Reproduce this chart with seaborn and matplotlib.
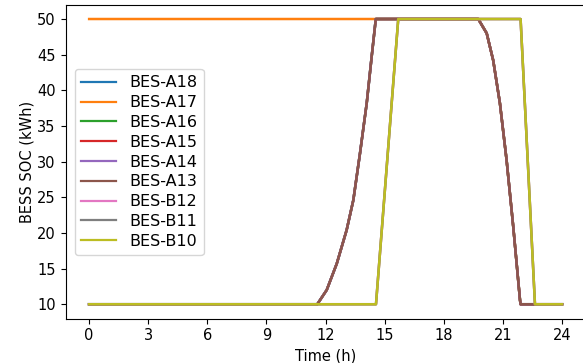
import matplotlib
matplotlib.use("Agg")
import matplotlib.pyplot as plt
import seaborn as sns
import pandas as pd

series_names = ["BES-A18", "BES-A17", "BES-A16", "BES-A15", "BES-A14",
                "BES-A13", "BES-B12", "BES-B11", "BES-B10"]

# group with early charge (A18, A16, A15, A14, A13)
time_early = [0, 11.58, 12.06, 12.57, 13.07, 13.41, 13.75, 14.09, 14.34, 14.55,
              19.75, 20.18, 20.51, 20.85, 21.19, 21.53, 21.87, 21.9, 24]
soc_early = [10, 10, 12.0, 15.7, 20.4, 24.6, 31.2, 38.2, 44.7, 50,
             50, 48.0, 44.2, 38.2, 30.2, 20.8, 10.6, 10, 10]

# battery starting full (A17), then discharging with the early group
time_full = [0, 19.75, 20.18, 20.51, 20.85, 21.19, 21.53, 21.87, 21.9, 24]
soc_full = [50, 50, 48.0, 44.2, 38.2, 30.2, 20.8, 10.6, 10, 10]

# group with late charge (B12, B11, B10)
time_late = [0, 14.56, 15.69, 21.9, 22.63, 24]
soc_late = [10, 10, 50, 50, 10, 10]

groups = {
    "BES-A18": (time_early, soc_early),
    "BES-A17": (time_full, soc_full),
    "BES-A16": (time_early, soc_early),
    "BES-A15": (time_early, soc_early),
    "BES-A14": (time_early, soc_early),
    "BES-A13": (time_early, soc_early),
    "BES-B12": (time_late, soc_late),
    "BES-B11": (time_late, soc_late),
    "BES-B10": (time_late, soc_late),
}

rows = []
for name in series_names:
    t, s = groups[name]
    for ti, si in zip(t, s):
        rows.append({"Time": ti, "SOC": si, "BES": name})
df = pd.DataFrame(rows)

x_ticks = [0, 3, 6, 9, 12, 15, 18, 21, 24]
y_ticks = [10, 15, 20, 25, 30, 35, 40, 45, 50]

plt.rcParams["font.family"] = ["DejaVu Sans"]
plt.rcParams["font.size"] = 10.5

fig = plt.figure(figsize=(5.83, 3.63), dpi=100)
ax = fig.add_axes([65.5 / 583, (363 - 318.5) / 363, (585.6 - 65.5) / 583, (318.5 - 4.75) / 363])

sns.lineplot(data=df, x="Time", y="SOC", hue="BES", hue_order=series_names,
             palette="tab10", estimator=None, sort=False, linewidth=1.8, ax=ax)

ax.set_xticks(x_ticks)
ax.set_yticks(y_ticks)
ax.set_xlim(-1.2, 25.2)
ax.set_ylim(8, 52)
ax.set_xlabel("Time (h)", fontsize=10.5)
ax.set_ylabel("BESS SOC (kWh)", fontsize=10.5, labelpad=2)
ax.tick_params(labelsize=10.5)

leg = ax.legend(loc="upper left", bbox_to_anchor=(0.018, 0.795), borderaxespad=0,
                fontsize=11.5, handlelength=2.2, labelspacing=0.3, frameon=True)
for line in leg.get_lines():
    line.set_linewidth(1.6)

fig.savefig("out.png", dpi=100)
